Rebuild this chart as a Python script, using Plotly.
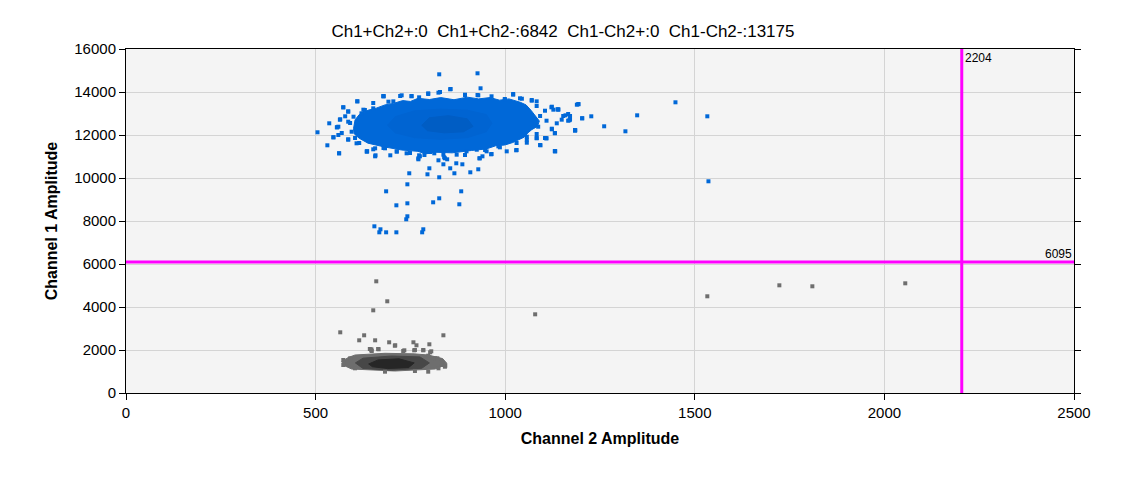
import plotly.graph_objects as go

# droplet counts shown in the title
title_text = "Ch1+Ch2+:0  Ch1+Ch2-:6842  Ch1-Ch2+:0  Ch1-Ch2-:13175"

# threshold lines
thr_ch2 = 2204
thr_ch1 = 6095

# Ch1+ (blue) cluster: dense body outline, darker core outlines
blue_body_x = [600, 604, 615, 638, 660, 683, 705, 730, 750, 770, 800, 830, 865, 900, 930, 960,
               985, 1010, 1040, 1055, 1068, 1080, 1090, 1085, 1070, 1060, 1050, 1020, 999, 975,
               950, 911, 860, 815, 790, 770, 727, 680, 638, 615, 602]
blue_body_y = [12300, 12700, 12950, 13150, 13250, 13400, 13470, 13600, 13560, 13706, 13650,
               13740, 13640, 13760, 13680, 13740, 13620, 13680, 13520, 13400, 13150, 12900,
               12650, 12400, 12250, 12100, 11900, 11650, 11535, 11500, 11350, 11280, 11170,
               11200, 11120, 11240, 11302, 11450, 11620, 11850, 12050]
blue_core_x = [690, 710, 760, 830, 900, 950, 965, 950, 900, 830, 760, 710]
blue_core_y = [12450, 12850, 13120, 13200, 13150, 12950, 12550, 12150, 11880, 11800, 11880, 12100]
blue_core2_x = [780, 800, 850, 900, 915, 890, 840, 795]
blue_core2_y = [12450, 12800, 12900, 12750, 12400, 12150, 12100, 12200]

# Ch1+ single droplets (edge fringe and outliers)
blue_x = [679, 727, 753, 797, 828, 856, 894, 929, 964, 1021, 999, 1044, 1070, 1083, 773, 705, 610,
          1189, 1166, 1171, 1149, 1127, 1140, 1184, 1123, 1131, 1105, 1131, 1083, 1057,
          586, 564, 556, 547, 586, 569, 591, 578, 626, 652,
          635, 657, 679, 714, 749, 775, 802, 837, 872, 898, 925, 951, 982, 1004, 1030, 615, 604,
          826, 927, 935, 855, 679, 610, 573, 536, 505, 531, 547, 562, 557, 565,
          1193, 1227, 1261, 1203, 1185, 1169, 1132, 1108, 1093, 1140, 1122, 1159,
          1029, 963, 940, 932, 929, 908, 887, 871, 866, 855, 837, 847, 839, 824, 826, 800, 795,
          771, 747, 742, 686, 884, 713, 742, 810, 826, 879, 742, 739,
          655, 671, 668, 686, 713, 784, 781, 773, 697, 658, 636, 652,
          1317, 1348, 1449, 1533, 1536,
          1070, 1083, 1105, 1123, 1138, 1092, 1109, 1136, 1153, 1171, 1166, 1070, 1087, 1123,
          1131, 1083, 1057, 1057, 1083, 1109, 1092, 1131, 1030, 964, 933, 947, 894, 986, 1184,
          1193, 1203, 894, 927, 1021, 1039, 999,
          573, 560, 560, 586, 600, 586, 595, 586, 608, 562, 635, 657, 683, 714, 740, 771, 787,
          813, 841, 679, 723, 753, 797, 824, 692, 652, 630, 621]
blue_y = [13800, 13846, 13800, 13907, 14000, 14140, 13875, 13846, 13800, 13875, 13642, 13688,
          13595, 13565, 13753, 13565, 13565,
          13410, 12977, 12712, 12712, 13177, 13177, 12200, 12293, 12093, 11860, 11240, 11860, 11782,
          13102, 12712, 12358, 11893, 11782, 12093, 12558, 12870, 13177, 13488,
          11240, 11009, 11395, 11240, 11163, 11009, 11209, 11084, 11084, 11240, 11316, 11240,
          11474, 11240, 11628, 11628, 11860,
          14823, 14870, 14172, 14126, 13800, 13567, 13288, 12544, 12126, 11521, 11893, 11149,
          12358, 12730,
          13428, 12870, 12405, 12777, 12219, 12684, 11242, 11847, 11521, 13195, 13288, 12916,
          11288, 11102, 11009, 10916, 10405, 10265, 10637, 10684, 10219, 10451, 10637, 10870,
          10963, 10823, 10033, 10451, 10172,
          10870, 10219, 9707, 9381, 9381, 8730, 8823, 8870, 9056, 8777, 8219, 8079,
          7753, 7614, 7474, 7474, 7474, 7614, 7474, 11056, 11056, 11056, 11242, 11335,
          12172, 12916, 13521, 12870, 9847,
          13628, 13349, 13130, 13316, 13195, 12884, 12665, 12544, 12884, 12884, 12665, 12544,
          12386, 12265, 12079, 12047, 11921, 11642, 11847, 11847, 11535, 11256, 11302, 11116,
          10916, 11302, 11070, 11426, 12233, 13442, 12777, 13860, 13860, 13907, 13706, 13674,
          13288, 12386, 12000, 13084, 12851, 12619, 12153, 11800, 11614, 11149, 11226, 11381,
          11381, 11226, 11149, 10916, 11070, 11149, 10916, 13814, 13814, 13814, 13938, 13970,
          13550, 13240, 13163, 13009]

# Ch1- (gray) cluster: body, middle and core outlines
gray_body_x = [569, 585, 604, 683, 760, 797, 835, 846, 830, 815, 709, 640, 595, 575]
gray_body_y = [1456, 1640, 1767, 1846, 1820, 1767, 1600, 1381, 1220, 1116, 1023, 1060, 1116, 1280]
gray_mid_x = [605, 625, 700, 775, 800, 780, 700, 625]
gray_mid_y = [1400, 1620, 1720, 1680, 1400, 1150, 1060, 1140]
gray_core_x = [640, 665, 720, 760, 745, 690, 650]
gray_core_y = [1350, 1540, 1590, 1400, 1180, 1140, 1220]

# Ch1- single droplets (edge fringe and outliers)
gray_x = [573, 573, 591, 643, 648, 665, 709, 731, 762, 784, 802, 815, 833, 841, 824, 797, 604,
          762, 683,
          660, 689, 652, 565, 628, 615, 657, 694, 710, 758, 766, 800, 837, 647, 647, 666, 734,
          760, 784, 805, 1079, 842, 821, 797,
          1533, 1723, 1810, 2055]
gray_y = [1535, 1302, 1612, 2047, 1953, 2047, 2200, 1953, 2000, 2000, 1893, 1612, 1302, 1223,
          1149, 991, 1149, 1023, 991,
          5195, 4265, 3846, 2823, 2684, 2451, 2451, 2358, 2219, 2358, 2219, 2265, 2684, 2033,
          1986, 2033, 1986, 1986, 1986, 1940, 3660, 1270, 1614, 1735,
          4498, 5009, 4963, 5102]

BLUE = "#0068d8"
GRAY = "#6e6e6e"

fig = go.Figure()


def blob(x, y, color):
    fig.add_trace(go.Scatter(x=x + x[:1], y=y + y[:1], mode="lines", fill="toself",
                             fillcolor=color, line=dict(width=1, color=color),
                             hoverinfo="skip", showlegend=False))


blob(gray_body_x, gray_body_y, GRAY)
blob(gray_mid_x, gray_mid_y, "#474747")
blob(gray_core_x, gray_core_y, "#262626")
blob(blue_body_x, blue_body_y, BLUE)
blob(blue_core_x, blue_core_y, "#0064d2")
blob(blue_core2_x, blue_core2_y, "#005dc4")

fig.add_trace(go.Scatter(x=gray_x, y=gray_y, mode="markers",
                         marker=dict(symbol="square", size=4, color=GRAY, line=dict(width=0)),
                         showlegend=False))
fig.add_trace(go.Scatter(x=blue_x, y=blue_y, mode="markers",
                         marker=dict(symbol="square", size=4, color=BLUE, line=dict(width=0)),
                         showlegend=False))

fig.add_vline(x=thr_ch2, line_color="#ff00ff", line_width=3)
fig.add_hline(y=thr_ch1, line_color="#ff00ff", line_width=3)
fig.add_annotation(x=thr_ch2, y=1, xref="x", yref="paper", text=str(thr_ch2),
                   showarrow=False, xanchor="left", yanchor="top", xshift=1,
                   font=dict(size=12, color="black", family="Liberation Sans"))
fig.add_annotation(x=1, y=thr_ch1, xref="paper", yref="y", text=str(thr_ch1),
                   showarrow=False, xanchor="right", yanchor="bottom", yshift=-1,
                   font=dict(size=12, color="black", family="Liberation Sans"))

# page body has an 8px margin, so the figure is sized to land the plot at the same pixels
fig.update_layout(
    width=1100, height=460,
    margin=dict(l=118, r=34, t=41, b=75),
    paper_bgcolor="white", plot_bgcolor="#f4f4f4",
    title=dict(text=title_text, x=0.5045, xref="container", y=0.95, yref="container",
               xanchor="center", yanchor="middle",
               font=dict(family="Liberation Sans", size=17, color="black")),
    font=dict(family="Liberation Sans", color="black"),
)
axis_style = dict(showline=True, linecolor="black", linewidth=1, ticks="outside", ticklen=6,
                  tickcolor="black", showgrid=True, gridcolor="#d4d4d4", gridwidth=1,
                  zeroline=False, tickformat="d",
                  tickfont=dict(size=15, family="Liberation Sans", color="black"))
fig.update_xaxes(range=[0, 2500], dtick=500, mirror=True, **axis_style,
                 title=dict(text="<b>Channel 2 Amplitude</b>", font=dict(size=16), standoff=12))
fig.update_yaxes(range=[0, 16000], dtick=2000, mirror="ticks", **axis_style,
                 title=dict(text="<b>Channel 1 Amplitude</b>", font=dict(size=16), standoff=12))

fig.write_html("out.html")
